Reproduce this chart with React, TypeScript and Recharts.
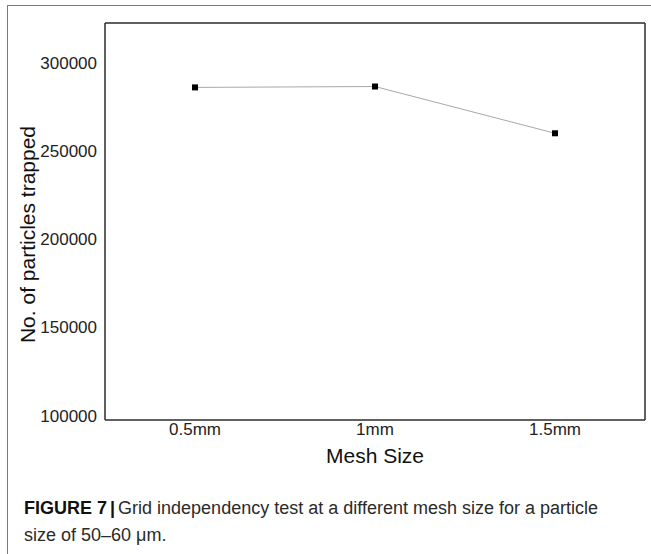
import React from 'react'
import { LineChart, Line, XAxis, YAxis, Label } from 'recharts'

const meshSizes = ['0.5mm', '1mm', '1.5mm']
const particlesTrapped = [286000, 286500, 260000]
const yTicks = [100000, 150000, 200000, 250000, 300000]

const data = meshSizes.map((name, i) => ({ name, value: particlesTrapped[i] }))

const FONT = '"Liberation Sans", Arial, Helvetica, sans-serif'
const AXIS = { stroke: '#2b2b2b', strokeWidth: 1.5 }

// black square markers like the original plot
const SquareDot = (props: any) => {
  const { cx, cy, index } = props
  if (cx == null || cy == null) return null
  return <rect key={`dot-${index}`} x={cx - 3} y={cy - 3} width={6} height={6} fill="#000" />
}

const YTitle = (props: any) => {
  const vb = props.viewBox
  const x = vb.x + 27
  const y = vb.y + vb.height / 2 + 13
  return (
    <text
      x={x}
      y={y}
      transform={`rotate(-90 ${x} ${y})`}
      textAnchor="middle"
      dominantBaseline="central"
      fontSize={21}
      fontFamily={FONT}
      fill="#111"
    >
      No. of particles trapped
    </text>
  )
}

const XTitle = (props: any) => {
  const vb = props.viewBox
  return (
    <text
      x={vb.x + vb.width / 2}
      y={vb.y + 43}
      textAnchor="middle"
      fontSize={21}
      fontFamily={FONT}
      fill="#111"
    >
      Mesh Size
    </text>
  )
}

export default function App() {
  return (
    <div
      style={{
        position: 'absolute',
        top: 0,
        left: 0,
        width: 651,
        height: 554,
        overflow: 'hidden',
        background: '#fff',
        fontFamily: FONT,
      }}
    >
      {/* figure frame (top + left edge only) */}
      <div
        style={{
          position: 'absolute',
          left: 7,
          top: 5,
          width: 700,
          height: 600,
          borderTop: '1.5px solid #7a7a7a',
          borderLeft: '1.5px solid #7a7a7a',
        }}
      />
      <div style={{ position: 'absolute', left: 0, top: 0 }}>
        <LineChart
          width={651}
          height={480}
          data={data}
          margin={{ top: 22, right: 5, left: 0, bottom: 0 }}
        >
          <XAxis
            dataKey="name"
            height={60}
            padding={{ left: 90, right: 90 }}
            axisLine={AXIS}
            tickLine={false}
            tickSize={0}
            tickMargin={3}
            tick={{ fill: '#222', fontSize: 17, fontFamily: FONT }}
            interval={0}
          >
            <Label content={XTitle} />
          </XAxis>
          {/* top edge of the plot box */}
          <XAxis
            xAxisId="top"
            orientation="top"
            dataKey="name"
            height={1}
            axisLine={AXIS}
            tick={false}
            tickLine={false}
          />
          <YAxis
            width={105}
            domain={[97500, 322500]}
            ticks={yTicks}
            axisLine={AXIS}
            tickLine={false}
            tickSize={0}
            tickMargin={8}
            tick={{ fill: '#222', fontSize: 17, fontFamily: FONT }}
            allowDataOverflow
          >
            <Label content={YTitle} />
          </YAxis>
          {/* right edge of the plot box */}
          <YAxis
            yAxisId="right"
            orientation="right"
            width={1}
            domain={[97500, 322500]}
            axisLine={AXIS}
            tick={false}
            tickLine={false}
          />
          <Line
            type="linear"
            dataKey="value"
            stroke="#a8a8a8"
            strokeWidth={1}
            dot={SquareDot}
            activeDot={false}
            isAnimationActive={false}
          />
        </LineChart>
      </div>
      {/* caption */}
      <div
        style={{
          position: 'absolute',
          left: 24,
          top: 495,
          width: 620,
          fontSize: 18,
          lineHeight: '27px',
          color: '#2a2a2a',
        }}
      >
        <span style={{ fontWeight: 'bold', color: '#111' }}>FIGURE 7</span>
        <span style={{ fontWeight: 'bold', color: '#111', margin: '0 3px' }}>|</span>
        Grid independency test at a different mesh size for a particle
        <br />
        size of 50–60 μm.
      </div>
    </div>
  )
}
